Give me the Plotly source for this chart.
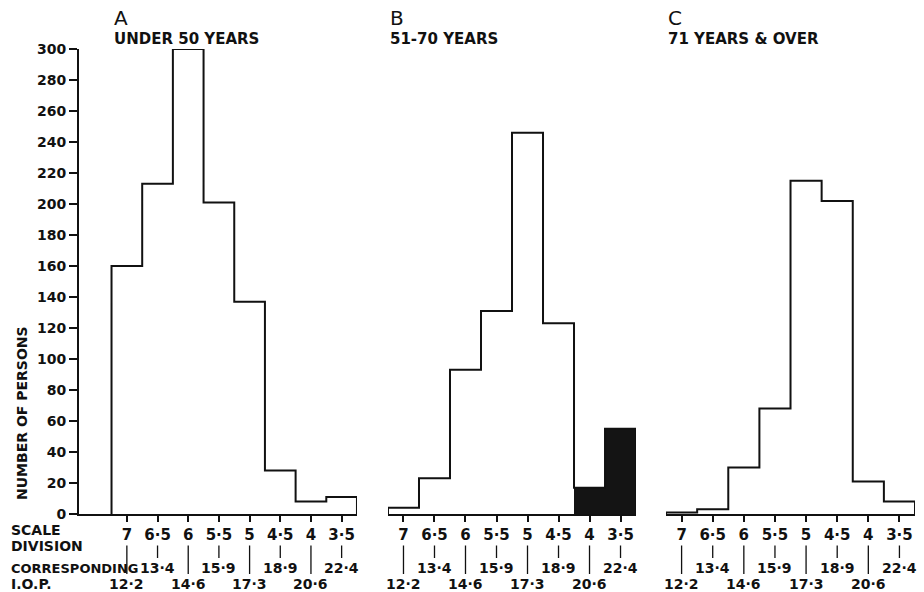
import plotly.graph_objects as go

# ---- data ----
scale_division = ["7", "6·5", "6", "5·5", "5", "4·5", "4", "3·5"]
iop_values = ["12·2", "13·4", "14·6", "15·9", "17·3", "18·9", "20·6", "22·4"]
under_50 = [160, 213, 300, 201, 137, 28, 8, 11]
age_51_70 = [4, 23, 93, 131, 246, 123, 17, 55]
age_51_70_shaded = ["4", "3·5"]
age_71_over = [1, 3, 30, 68, 215, 202, 21, 8]
y_ticks = list(range(0, 301, 20))

panels = [
    ("A", "UNDER 50 YEARS", under_50, []),
    ("B", "51-70 YEARS", age_51_70, age_51_70_shaded),
    ("C", "71 YEARS & OVER", age_71_over, []),
]

FONT = "DejaVu Sans"
BLACK = "#111111"

fig = go.Figure()

positions = list(range(len(scale_division)))
domains = [[0.0, 0.3325], [0.3696, 0.6663], [0.7022, 1.0]]
ranges = [[-1.56, 7.5], [-0.5, 7.5], [-0.5, 7.5]]

annotations = []
for k, (letter, title, values, shaded) in enumerate(panels):
    xa = "x" if k == 0 else f"x{k+1}"
    # shaded bins
    sx = [positions[scale_division.index(s)] for s in shaded]
    sy = [values[scale_division.index(s)] for s in shaded]
    if sx:
        fig.add_trace(go.Bar(x=sx, y=sy, width=1, marker=dict(color="#141414", line=dict(width=0)),
                             xaxis=xa, yaxis="y", showlegend=False, hoverinfo="skip"))
    # histogram outline as a step line
    edges = [p - 0.5 for p in positions] + [positions[-1] + 0.5, positions[-1] + 0.5]
    ys = [0] + list(values) + [0]
    fig.add_trace(go.Scatter(x=edges, y=ys, mode="lines", line=dict(color=BLACK, width=2, shape="vh"),
                             xaxis=xa, yaxis="y", showlegend=False, hoverinfo="skip", cliponaxis=False))
    # panel titles
    x0 = positions[0] - 0.5
    annotations.append(dict(text=letter, xref=xa, yref="paper", x=x0, y=1.0, yshift=31,
                            xanchor="left", yanchor="middle", showarrow=False,
                            font=dict(family=FONT, size=20, color=BLACK)))
    annotations.append(dict(text=title, xref=xa, yref="paper", x=x0, y=1.0, yshift=10,
                            xanchor="left", yanchor="middle", showarrow=False,
                            font=dict(family=FONT, size=15, color=BLACK, weight="bold")))
    # IOP labels with leader lines
    for i, (p, lab) in enumerate(zip(positions, iop_values)):
        annotations.append(dict(text=lab, xref=xa, yref="paper", x=p, y=-0.068,
                                ax=0, ay=(38 if i % 2 == 0 else 22), axref="pixel", ayref="pixel",
                                showarrow=True, arrowhead=0, arrowwidth=1.3, arrowcolor=BLACK,
                                standoff=0, startstandoff=0,
                                font=dict(family=FONT, size=14, color=BLACK, weight="bold")))

    axis = dict(domain=domains[k], range=ranges[k], anchor="y", showgrid=False, zeroline=False,
                automargin=False,
                showline=True, linecolor=BLACK, linewidth=2,
                tickmode="array", tickvals=positions, ticktext=scale_division,
                ticks="outside", ticklen=6, tickwidth=1.5, tickcolor=BLACK,
                tickfont=dict(family=FONT, size=15, color=BLACK, weight="bold"))
    key = "xaxis" if k == 0 else f"xaxis{k+1}"
    fig.update_layout(**{key: axis})

# left labels
for txt, ypix in [("SCALE", 530), ("DIVISION", 546), ("CORRESPONDING", 568), ("I.O.P.", 584)]:
    annotations.append(dict(text=txt, xref="paper", yref="paper", x=-79 / 836, xshift=9,
                            y=(514 - ypix) / 465, xanchor="left", yanchor="middle", showarrow=False,
                            font=dict(family=FONT, size=(13 if txt == "CORRESPONDING" else 14),
                                      color=BLACK, weight="bold")))
annotations.append(dict(text="NUMBER OF PERSONS", xref="paper", yref="paper", x=-79 / 836, xshift=22,
                        y=(514 - 413) / 465, textangle=-90, xanchor="center", yanchor="middle",
                        showarrow=False, font=dict(family=FONT, size=14, color=BLACK, weight="bold")))

fig.update_layout(
    width=924, height=592,
    margin=dict(l=79, r=9, t=49, b=78, autoexpand=False),
    paper_bgcolor="white", plot_bgcolor="white",
    showlegend=False, bargap=0,
    yaxis=dict(range=[0, 300], anchor="x", showgrid=False, zeroline=False, automargin=False,
               showline=True, linecolor=BLACK, linewidth=2,
               tickmode="array", tickvals=y_ticks, ticks="outside", ticklen=8, tickwidth=1.5,
               tickcolor=BLACK, tickfont=dict(family=FONT, size=14, color=BLACK, weight="bold")),
    annotations=annotations,
)

fig.write_html("out.html", config={"displayModeBar": False},
               post_script="document.body.style.margin='0';document.body.style.overflow='hidden';")
